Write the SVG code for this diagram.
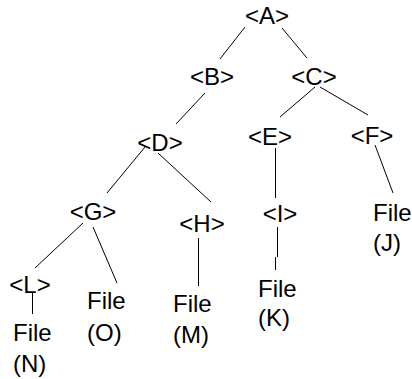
<svg xmlns="http://www.w3.org/2000/svg" width="412" height="379" viewBox="0 0 412 379">
<style>
text{font-family:"Liberation Sans",Arial,sans-serif;font-size:24px;fill:#000}
.n{text-anchor:middle}
.e line{stroke:#000;stroke-width:1}
</style>
<rect width="412" height="379" fill="#fff"/>
<g id="connectors" class="e">
<line x1="245" y1="27" x2="220" y2="59"/>
<line x1="282" y1="28" x2="307" y2="58"/>
<line x1="205" y1="93" x2="176" y2="124"/>
<line x1="315" y1="87" x2="280" y2="117"/>
<line x1="320" y1="87" x2="368" y2="115"/>
<line x1="145" y1="147" x2="107" y2="193"/>
<line x1="158" y1="153" x2="211" y2="202"/>
<line x1="83" y1="223" x2="35" y2="268"/>
<line x1="93" y1="227" x2="117" y2="283"/>
<line x1="198.5" y1="238" x2="198.5" y2="286"/>
<line x1="32.5" y1="293" x2="32.5" y2="314"/>
<line x1="275.5" y1="148" x2="275.5" y2="198"/>
<line x1="277.5" y1="227" x2="277.5" y2="257"/>
<line x1="275.5" y1="257" x2="275.5" y2="270"/>
<line x1="375" y1="145" x2="393" y2="193"/>
</g>
<g id="A"><text class="n" x="267" y="24">&lt;A&gt;</text></g>
<g id="B"><text class="n" x="212" y="85">&lt;B&gt;</text></g>
<g id="C"><text class="n" x="314" y="85">&lt;C&gt;</text></g>
<g id="D"><text class="n" x="160" y="151">&lt;D&gt;</text></g>
<g id="E"><text class="n" x="270" y="145">&lt;E&gt;</text></g>
<g id="F"><text class="n" x="372" y="144">&lt;F&gt;</text></g>
<g id="G"><text class="n" x="93" y="220">&lt;G&gt;</text></g>
<g id="H"><text class="n" x="202" y="232">&lt;H&gt;</text></g>
<g id="I"><text class="n" x="280" y="222">&lt;I&gt;</text></g>
<g id="L"><text class="n" x="30" y="293">&lt;L&gt;</text></g>
<g id="N"><text x="13" y="341">File</text><text x="13" y="372">(N)</text></g>
<g id="O"><text x="87" y="309">File</text><text x="87" y="341">(O)</text></g>
<g id="M"><text x="173" y="312">File</text><text x="173" y="343">(M)</text></g>
<g id="K"><text x="258" y="297">File</text><text x="258" y="326">(K)</text></g>
<g id="J"><text x="373" y="221">File</text><text x="373" y="251">(J)</text></g>
</svg>
